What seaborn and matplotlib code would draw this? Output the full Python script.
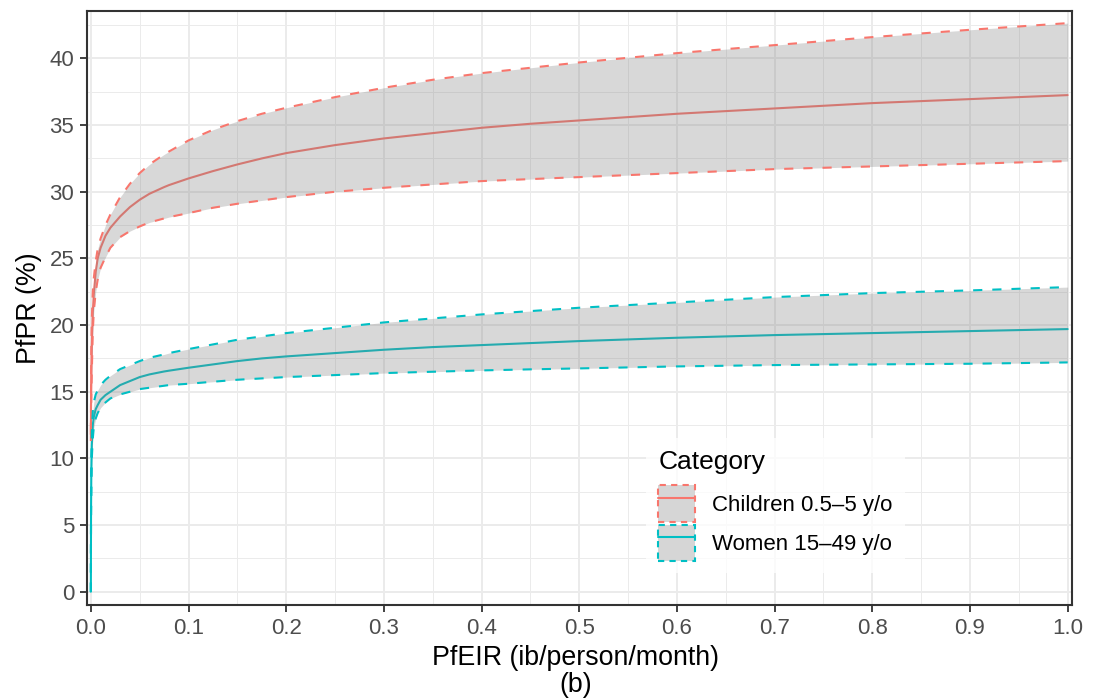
import numpy as np
import pandas as pd
import matplotlib
matplotlib.use("Agg")
import matplotlib.pyplot as plt
import seaborn as sns
from matplotlib.patches import Patch
from matplotlib.lines import Line2D
from matplotlib.ticker import MultipleLocator

# ---------------- data ----------------
eir = [0, 0.0002, 0.0005, 0.001, 0.002, 0.003, 0.005, 0.007, 0.01, 0.015, 0.02,
       0.03, 0.04, 0.05, 0.06, 0.075, 0.08, 0.1, 0.125, 0.15, 0.175, 0.2, 0.25,
       0.3, 0.35, 0.4, 0.45, 0.5, 0.6, 0.7, 0.8, 0.9, 1.0]

children_mean = [11.8, 14.0, 16.5, 18.5, 21.0, 22.3, 24.0, 25.0, 25.8, 26.7, 27.3,
                 28.15, 28.85, 29.4, 29.85, 30.35, 30.5, 31.0, 31.55, 32.05, 32.5, 32.9, 33.5,
                 34.0, 34.4, 34.8, 35.1, 35.35, 35.85, 36.25, 36.65, 36.95, 37.25]
children_hi = [12.0, 15.0, 18.5, 20.5, 22.5, 23.5, 24.8, 25.7, 26.5, 27.5, 28.3,
               29.6, 30.6, 31.4, 32.05, 32.8, 33.02, 33.85, 34.65, 35.3, 35.85, 36.3, 37.1,
               37.8, 38.4, 38.9, 39.3, 39.7, 40.4, 41.0, 41.6, 42.15, 42.65]
children_lo = [11.3, 13.0, 14.5, 16.5, 19.5, 21.0, 22.5, 23.4, 24.3, 25.1, 25.8,
               26.6, 27.05, 27.4, 27.7, 28.0, 28.1, 28.4, 28.8, 29.1, 29.35, 29.6, 30.0,
               30.3, 30.55, 30.8, 30.95, 31.1, 31.4, 31.7, 31.9, 32.1, 32.3]

women_mean = [0, 6.0, 9.0, 11.0, 12.5, 13.1, 13.7, 14.0, 14.4, 14.75, 15.0,
              15.5, 15.8, 16.1, 16.3, 16.52, 16.58, 16.8, 17.05, 17.3, 17.5, 17.65, 17.9,
              18.15, 18.35, 18.5, 18.65, 18.8, 19.05, 19.25, 19.4, 19.55, 19.7]
women_hi = [0, 6.5, 10.0, 12.0, 13.5, 14.2, 14.8, 15.1, 15.5, 15.9, 16.2,
            16.7, 17.0, 17.3, 17.55, 17.8, 17.9, 18.2, 18.55, 18.9, 19.15, 19.4, 19.8,
            20.2, 20.5, 20.8, 21.05, 21.3, 21.7, 22.1, 22.4, 22.6, 22.85]
women_lo = [0, 5.5, 8.0, 10.0, 11.5, 12.3, 13.0, 13.4, 13.8, 14.2, 14.5,
            14.8, 15.0, 15.2, 15.3, 15.45, 15.5, 15.6, 15.75, 15.9, 16.0, 16.1, 16.25,
            16.4, 16.5, 16.6, 16.68, 16.75, 16.9, 17.0, 17.05, 17.1, 17.2]

categories = ["Children 0.5\u20135 y/o", "Women 15\u201349 y/o"]
colors = ["#F8766D", "#00BFC4"]
x_ticks = [0.0, 0.1, 0.2, 0.3, 0.4, 0.5, 0.6, 0.7, 0.8, 0.9, 1.0]
y_ticks = [0, 5, 10, 15, 20, 25, 30, 35, 40]

rows = []
for cat, m, lo, hi in [(categories[0], children_mean, children_lo, children_hi),
                       (categories[1], women_mean, women_lo, women_hi)]:
    for xi, mi, li, hi_ in zip(eir, m, lo, hi):
        rows.append({"EIR": xi, "PR": mi, "lo": li, "hi": hi_, "Category": cat})
df = pd.DataFrame(rows)

# ---------------- style ----------------
sns.set_theme(style="white")
plt.rcParams["font.family"] = ["Liberation Sans", "DejaVu Sans"]

fig = plt.figure(figsize=(11.04, 7.0), dpi=100)
ax = fig.add_axes([0.0791, 0.1364, 0.8915, 0.8479])

palette = dict(zip(categories, colors))
sns.lineplot(data=df, x="EIR", y="PR", hue="Category", palette=palette,
             ax=ax, lw=1.5, legend=False, zorder=3, estimator=None)

dash = (0, (4.4, 4.8))
for cat, col in zip(categories, colors):
    sub = df[df["Category"] == cat]
    ax.fill_between(sub["EIR"], sub["lo"], sub["hi"], color="#7F7F7F",
                    alpha=0.3, lw=0, zorder=4)
    ax.plot(sub["EIR"], sub["hi"], color=col, ls=dash, lw=1.5, zorder=5)
    ax.plot(sub["EIR"], sub["lo"], color=col, ls=dash, lw=1.5, zorder=5)

ax.set_xlim(-0.0036, 1.004)
ax.set_ylim(-0.96, 43.56)
ax.set_xticks(x_ticks)
ax.set_xticklabels([f"{t:.1f}" for t in x_ticks])
ax.set_yticks(y_ticks)
ax.xaxis.set_minor_locator(MultipleLocator(0.05))
ax.yaxis.set_minor_locator(MultipleLocator(2.5))

ax.grid(which="major", color="#EBEBEB", lw=1.4, zorder=0)
ax.grid(which="minor", color="#EBEBEB", lw=0.7, zorder=0)
ax.set_axisbelow(True)
for s in ax.spines.values():
    s.set_color("#333333")
    s.set_linewidth(1.5)

ax.tick_params(axis="both", which="major", length=5, width=1.3, color="#333333",
               labelsize=16, labelcolor="#4D4D4D", pad=4.5, bottom=True, left=True)
ax.tick_params(axis="both", which="minor", length=0)

ax.set_xlabel("PfEIR (ib/person/month)", fontsize=19.3, color="black")
ax.xaxis.set_label_coords(0.4957, -0.068)
fig.text(0.4957 * 0.8915 + 0.0791, 2 / 700, "(b)", fontsize=19.3,
         color="black", ha="center", va="bottom")
ax.set_ylabel("PfPR (%)", fontsize=19.3, color="black")
ax.yaxis.set_label_coords(-0.046, 0.5)

handles = []
for col in colors:
    p = Patch(facecolor="#D6D6D6", edgecolor=col, linestyle=(0, (3, 2.5)), lw=1.5)
    l = Line2D([], [], color=col, lw=1.5)
    handles.append((p, l))
leg = ax.legend(handles, categories, title="Category", loc="upper left",
                bbox_to_anchor=(0.5677, 0.2805), frameon=True, fontsize=16,
                title_fontsize=19, handlelength=1.67, handleheight=2.15,
                borderpad=0.55, labelspacing=0.12, handletextpad=0.75,
                borderaxespad=0, fancybox=False, edgecolor="white",
                labelcolor="black")
leg.get_title().set_color("black")
leg._legend_box.align = "left"
leg._legend_box.sep = 8
leg.get_frame().set_facecolor("white")
leg.get_frame().set_linewidth(0)
leg.set_zorder(10)

fig.savefig("out.png", dpi=100)
